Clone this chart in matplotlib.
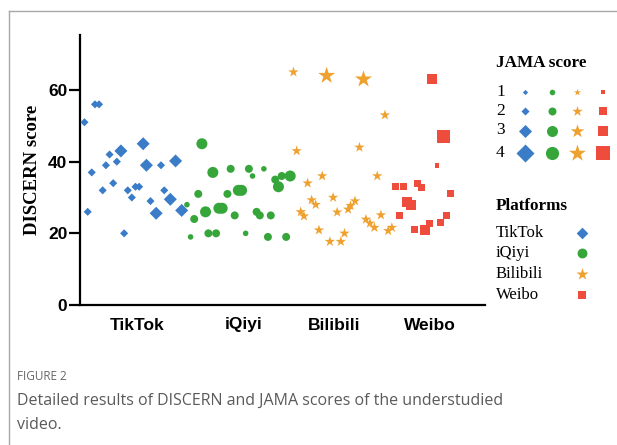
import matplotlib.pyplot as plt
from matplotlib.lines import Line2D

# x = position along the axis (0-100), y = DISCERN score, s = JAMA score
tiktok_x = [1.1, 3.7, 4.7, 1.9, 2.9, 5.6, 6.4, 7.3, 8.2, 9.1, 10.1, 10.9, 11.8,
            12.8, 13.7, 14.6, 15.6, 16.4, 17.4, 18.8, 20.0, 20.8, 22.3, 23.6, 25.1]
tiktok_y = [51, 56, 56, 26, 37, 32, 39, 42, 34, 40, 43, 20, 32,
            30, 33, 33, 45, 39, 29, 25.6, 39, 32, 29.5, 40.2, 26.4]
tiktok_s = [2, 2, 2, 2, 2, 2, 2, 2, 2, 2, 3, 2, 2,
            2, 2, 2, 3, 3, 2, 3, 2, 2, 3, 3, 3]

iqiyi_x = [26.4, 27.3, 28.2, 29.2, 30.1, 31.0, 31.7, 32.8, 33.6, 34.3, 35.1, 36.4,
           37.2, 38.2, 39.1, 39.9, 40.9, 41.7, 42.6, 43.6, 44.4, 45.4, 46.4, 47.1,
           48.2, 49.0, 49.8, 50.9, 51.9]
iqiyi_y = [28, 19, 24, 31, 45, 26, 20, 37, 20, 27, 27, 31,
           38, 25, 32, 32, 20, 38, 36, 26, 25, 38, 19, 25,
           35, 33, 36, 19, 36]
iqiyi_s = [1, 1, 2, 2, 3, 3, 2, 3, 2, 3, 3, 2,
           2, 2, 3, 3, 1, 2, 1, 2, 2, 1, 2, 2,
           2, 3, 2, 2, 3]

bilibili_x = [52.7, 53.5, 54.5, 55.3, 56.2, 57.2, 58.2, 59.0, 59.8, 60.9, 61.7, 62.5,
              63.5, 64.4, 65.3, 66.2, 66.8, 67.9, 69.0, 70.0, 70.6, 71.6, 72.7, 73.4,
              74.3, 75.3, 76.1, 77.0]
bilibili_y = [65, 43, 26, 24.8, 34, 29.3, 28, 20.9, 36, 64, 17.7, 30,
              25.9, 17.7, 20, 26.7, 27.7, 29, 44, 63, 23.9, 22.8, 21.6, 36,
              25.1, 53, 20.7, 21.6]
bilibili_s = [2, 2, 2, 2, 2, 2, 2, 2, 2, 4, 2, 2,
              2, 2, 2, 2, 2, 2, 2, 4, 2, 2, 2, 2,
              2, 2, 2, 2]

weibo_x = [78.0, 78.8, 79.8, 80.7, 81.7, 82.5, 83.4, 84.4, 85.2, 86.2, 87.0, 88.1,
           88.9, 89.7, 90.5, 91.5]
weibo_y = [33, 25, 33, 28.8, 27.9, 21, 34, 32.8, 20.9, 22.8, 63, 39,
           23, 47, 25, 31]
weibo_s = [2, 2, 2, 3, 3, 2, 2, 2, 3, 2, 3, 1,
           2, 4, 2, 2]

platforms = ["TikTok", "iQiyi", "Bilibili", "Weibo"]
label_pos = [14.0, 40.3, 62.7, 86.4]
jama_levels = [1, 2, 3, 4]

colors = {"TikTok": "#3a7cc8", "iQiyi": "#36a63a", "Bilibili": "#eea12f", "Weibo": "#ee4d3d"}
markers = {"TikTok": "D", "iQiyi": "o", "Bilibili": "*", "Weibo": "s"}
# marker area (pt^2) for each JAMA score
areas = {"TikTok": {1: 7, 2: 17, 3: 44, 4: 84},
         "iQiyi": {1: 16, 2: 33, 3: 63, 4: 90},
         "Bilibili": {1: 28, 2: 62, 3: 105, 4: 165},
         "Weibo": {1: 11, 2: 26, 3: 52, 4: 88}}

data = {"TikTok": (tiktok_x, tiktok_y, tiktok_s),
        "iQiyi": (iqiyi_x, iqiyi_y, iqiyi_s),
        "Bilibili": (bilibili_x, bilibili_y, bilibili_s),
        "Weibo": (weibo_x, weibo_y, weibo_s)}

W, H = 617, 445
fig = plt.figure(figsize=(W / 100, H / 100), dpi=100)
ax = fig.add_axes([80 / W, 140 / H, 405 / W, 270 / H])

for p in platforms:
    xs, ys, ss = data[p]
    ax.scatter(xs, ys, s=[areas[p][v] for v in ss], c=colors[p],
               marker=markers[p], linewidths=0, zorder=3)

ax.set_xlim(0, 100)
ax.set_ylim(0, 75.35)
ax.set_yticks([0, 20, 40, 60])
ax.set_xticks(label_pos)
ax.set_xticklabels(platforms)
for side in ["top", "right"]:
    ax.spines[side].set_visible(False)
for side in ["left", "bottom"]:
    ax.spines[side].set_linewidth(1.6)
ax.tick_params(axis="y", length=8, width=1.6, pad=1)
ax.tick_params(axis="x", length=0, pad=9)
for t in ax.get_xticklabels() + ax.get_yticklabels():
    t.set_fontfamily("Liberation Sans")
    t.set_fontweight("bold")
    t.set_fontsize(12.5)
ax.set_ylabel("DISCERN score", fontfamily="Liberation Serif", fontweight="bold",
              fontsize=13.5, labelpad=5)

# legends, drawn in pixel coordinates
lax = fig.add_axes([0, 0, 1, 1])
lax.set_xlim(0, W)
lax.set_ylim(H, 0)
lax.axis("off")

serif = "Liberation Serif"
lax.text(496, 63, "JAMA score", fontfamily=serif, fontweight="bold", fontsize=12.3, va="center")
rows_y = [91.7, 111, 130.5, 152.7]
cols_x = [525, 551.7, 576.7, 602.7]
for lvl, ry in zip(jama_levels, rows_y):
    lax.text(496, ry, str(lvl), fontfamily=serif, fontsize=12.5, va="center")
    for p, cx in zip(platforms, cols_x):
        lax.scatter([cx], [ry], s=areas[p][lvl], c=colors[p], marker=markers[p], linewidths=0)

lax.text(496, 206, "Platforms", fontfamily=serif, fontweight="bold", fontsize=12.3, va="center")
plat_y = [233.3, 252.7, 274.3, 295]
for p, py in zip(platforms, plat_y):
    lax.text(496, py, p, fontfamily=serif, fontsize=12, va="center")
    lax.scatter([581.7], [py], s=areas[p][3] * 0.8, c=colors[p], marker=markers[p], linewidths=0)

# caption
lax.text(17, 377, "FIGURE 2", fontfamily="Open Sans", fontsize=8.5, color="#666666", va="center")
lax.text(17, 401, "Detailed results of DISCERN and JAMA scores of the understudied",
         fontfamily="Open Sans", fontsize=11.5, color="#5a5a5a", va="center")
lax.text(17, 425, "video.", fontfamily="Open Sans", fontsize=11.5, color="#5a5a5a", va="center")

# page frame
fig.add_artist(Line2D([9 / W, 1], [1 - 11 / H, 1 - 11 / H], color="#a8a8a8", lw=1))
fig.add_artist(Line2D([9 / W, 9 / W], [0, 1 - 11 / H], color="#a8a8a8", lw=1))

fig.savefig("out.png", dpi=100)
